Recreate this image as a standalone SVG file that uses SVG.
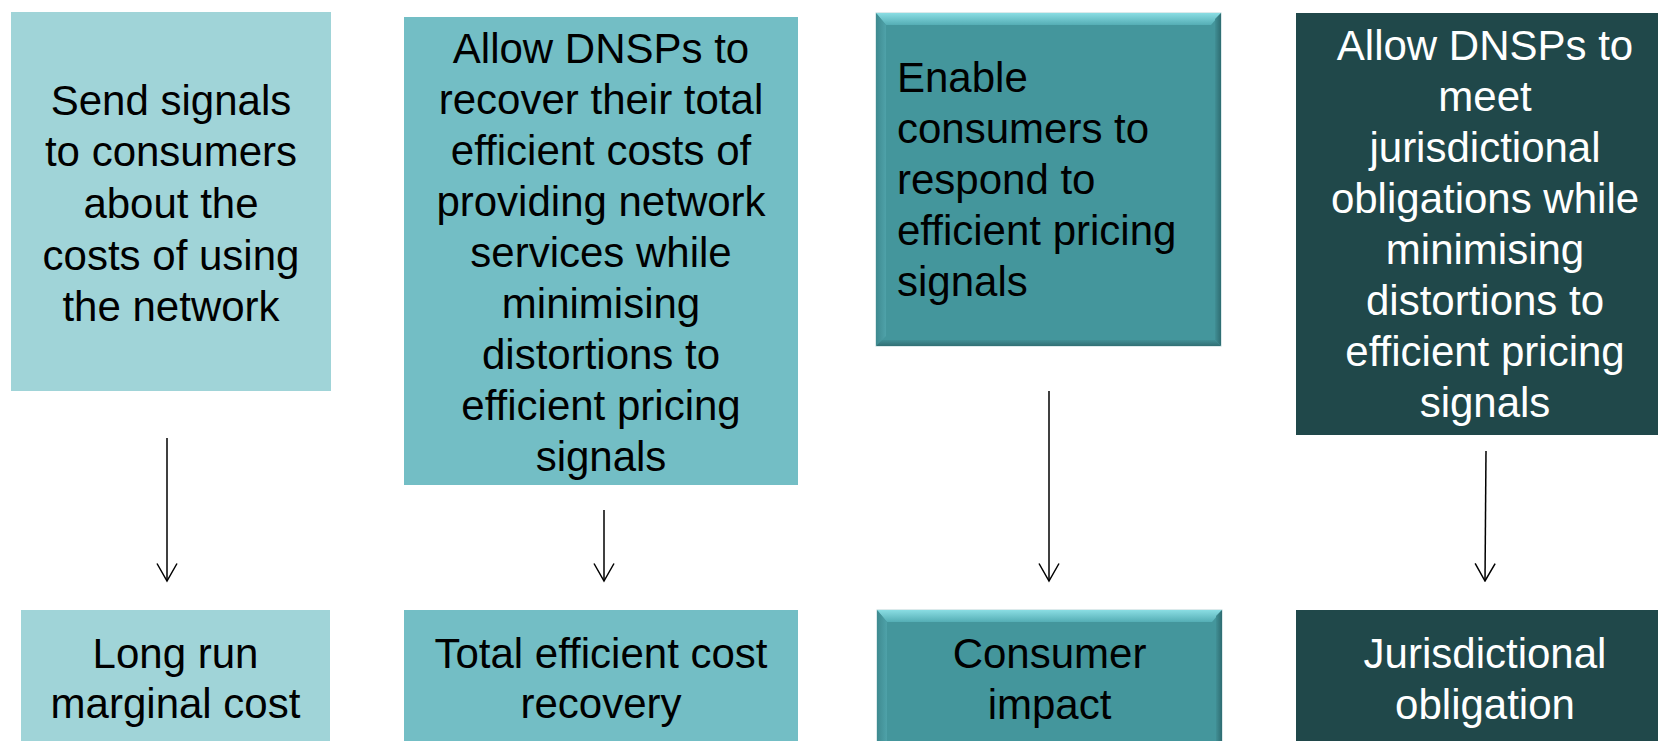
<svg xmlns="http://www.w3.org/2000/svg" width="1660" height="741" viewBox="0 0 1660 741">
<style>
.t{font-family:"Liberation Sans",Arial,sans-serif;font-size:42px;fill:#000}
.c{text-anchor:middle}
.w{fill:#fff}
.conn line{stroke:#000;stroke-width:1.5;fill:none}
</style>
<defs>
<marker id="arr" viewBox="0 0 20 22" refX="18.5" refY="11" markerWidth="20" markerHeight="22" markerUnits="userSpaceOnUse" orient="auto">
<path d="M1 1 L18.5 11 L1 21" fill="none" stroke="#000" stroke-width="1.5"/>
</marker>
<linearGradient id="topB" x1="0" y1="0" x2="0" y2="1"><stop offset="0" stop-color="#8ADDE3"/><stop offset="1" stop-color="#55AEB5"/></linearGradient>
<linearGradient id="leftB" x1="0" y1="0" x2="1" y2="0"><stop offset="0" stop-color="#3E8A90"/><stop offset="1" stop-color="#4FA2A9"/></linearGradient>
<linearGradient id="rightB" x1="0" y1="0" x2="1" y2="0"><stop offset="0" stop-color="#418F95"/><stop offset="1" stop-color="#2E6C71"/></linearGradient>
<linearGradient id="botB" x1="0" y1="0" x2="0" y2="1"><stop offset="0" stop-color="#418F95"/><stop offset="1" stop-color="#316F74"/></linearGradient>
</defs>

<g id="n1"><rect x="11" y="12" width="320" height="379" fill="#A0D4D8"/>
<text class="t c" x="171"><tspan x="171" y="115">Send signals</tspan><tspan x="171" y="166">to consumers</tspan><tspan x="171" y="218">about the</tspan><tspan x="171" y="270">costs of using</tspan><tspan x="171" y="321">the network</tspan></text></g>

<g id="n2"><rect x="404" y="17" width="394" height="468" fill="#73BEC5"/>
<text class="t c"><tspan x="601" y="63">Allow DNSPs to</tspan><tspan x="601" y="114">recover their total</tspan><tspan x="601" y="165">efficient costs of</tspan><tspan x="601" y="216">providing network</tspan><tspan x="601" y="267">services while</tspan><tspan x="601" y="318">minimising</tspan><tspan x="601" y="369">distortions to</tspan><tspan x="601" y="420">efficient pricing</tspan><tspan x="601" y="471">signals</tspan></text></g>

<g id="n3"><rect x="876" y="13" width="345" height="333" fill="#44969C" stroke="#B9D6D8" stroke-width="1"/>
<polygon points="876,13 1221,13 1211,25 886,25" fill="url(#topB)"/>
<polygon points="876,13 886,25 886,336 876,346" fill="url(#leftB)"/>
<polygon points="1221,13 1221,346 1215,340 1215,19" fill="url(#rightB)"/>
<polygon points="876,346 1221,346 1215,340 882,340" fill="url(#botB)"/>
<text class="t"><tspan x="897" y="92">Enable</tspan><tspan x="897" y="143">consumers to</tspan><tspan x="897" y="194">respond to</tspan><tspan x="897" y="245">efficient pricing</tspan><tspan x="897" y="296">signals</tspan></text></g>

<g id="n4"><rect x="1296" y="13" width="362" height="422" fill="#20484A"/>
<text class="t c w"><tspan x="1485" y="60">Allow DNSPs to</tspan><tspan x="1485" y="111">meet</tspan><tspan x="1485" y="162">jurisdictional</tspan><tspan x="1485" y="213">obligations while</tspan><tspan x="1485" y="264">minimising</tspan><tspan x="1485" y="315">distortions to</tspan><tspan x="1485" y="366">efficient pricing</tspan><tspan x="1485" y="417">signals</tspan></text></g>

<g id="n5"><rect x="21" y="610" width="309" height="140" fill="#A0D4D8"/>
<text class="t c"><tspan x="175.5" y="668">Long run</tspan><tspan x="175.5" y="718">marginal cost</tspan></text></g>

<g id="n6"><rect x="404" y="610" width="394" height="140" fill="#73BEC5"/>
<text class="t c"><tspan x="601" y="668">Total efficient cost</tspan><tspan x="601" y="718">recovery</tspan></text></g>

<g id="n7"><rect x="877" y="610" width="345" height="140" fill="#44969C" stroke="#B9D6D8" stroke-width="1"/>
<polygon points="877,610 1222,610 1212,622 887,622" fill="url(#topB)"/>
<polygon points="877,610 887,622 887,741 877,741" fill="url(#leftB)"/>
<polygon points="1222,610 1222,741 1216,741 1216,616" fill="url(#rightB)"/>
<text class="t c"><tspan x="1049.5" y="668">Consumer</tspan><tspan x="1049.5" y="719">impact</tspan></text></g>

<g id="n8"><rect x="1296" y="610" width="362" height="140" fill="#20484A"/>
<text class="t c w"><tspan x="1485" y="668">Jurisdictional</tspan><tspan x="1485" y="719">obligation</tspan></text></g>

<g class="conn" id="connectors">
<line x1="167" y1="438" x2="167" y2="581" marker-end="url(#arr)"/>
<line x1="604" y1="510" x2="604" y2="581" marker-end="url(#arr)"/>
<line x1="1049" y1="391" x2="1049" y2="581" marker-end="url(#arr)"/>
<line x1="1486" y1="451" x2="1485" y2="581" marker-end="url(#arr)"/>
</g>
</svg>
